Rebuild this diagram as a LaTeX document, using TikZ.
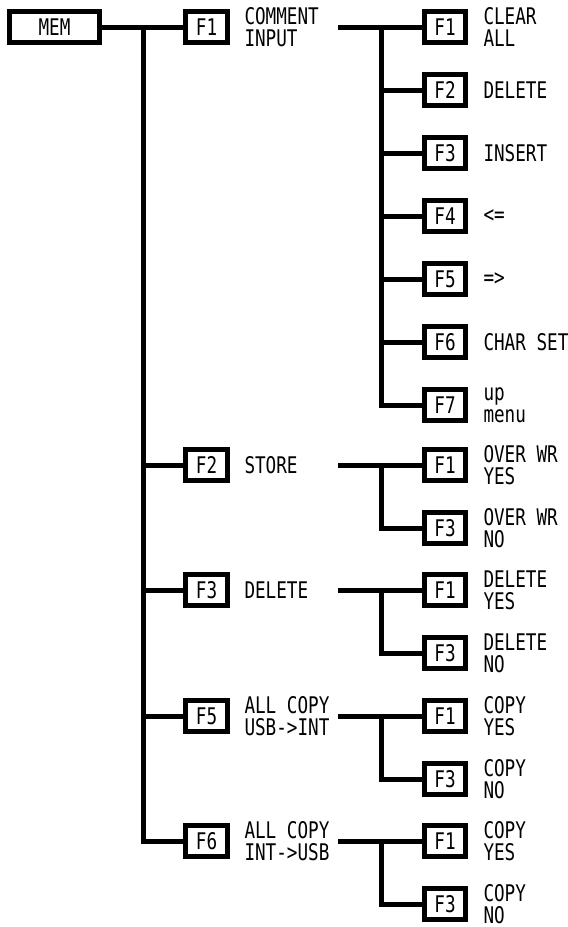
\documentclass[tikz,border=0pt]{standalone}
\usepackage{fontspec}
\setmainfont[FakeStretch=0.77]{DejaVu Sans Mono}
\newcommand\lblfont{\fontsize{23}{22}\selectfont}
\begin{document}
\begin{tikzpicture}[x=1bp,y=-1bp,line width=5bp,line join=miter,
  keybox/.style={draw,line width=5bp,minimum height=31bp,inner sep=0pt,font=\lblfont},
  lone/.style={keybox,minimum width=42bp},
  ltwo/.style={keybox,minimum width=41bp},
  memkey/.style={keybox,minimum width=90bp},
  lbl/.style={anchor=west,align=left,inner sep=0pt,font=\lblfont}]
\useasboundingbox (0,0) rectangle (568,927);

% root
\node[memkey] (mem) at (54.5,27) {MEM};

% level 1
\node[lone] (a1) at (206.5,27) {F1};
\node[lone] (a2) at (206.5,465) {F2};
\node[lone] (a3) at (206.5,590) {F3};
\node[lone] (a4) at (206.5,716) {F5};
\node[lone] (a5) at (206.5,841) {F6};
\node[lbl] (ta1) at (242,27) {COMMENT\\INPUT};
\node[lbl] (ta2) at (242,465) {STORE};
\node[lbl] (ta3) at (242,590) {DELETE};
\node[lbl] (ta4) at (242,716) {ALL COPY\\USB->INT};
\node[lbl] (ta5) at (242,841) {ALL COPY\\INT->USB};

% level 2 : comment input
\node[ltwo] (b1) at (445,27) {F1};
\node[ltwo] (b2) at (445,90) {F2};
\node[ltwo] (b3) at (445,153) {F3};
\node[ltwo] (b4) at (445,216) {F4};
\node[ltwo] (b5) at (445,279) {F5};
\node[ltwo] (b6) at (445,342) {F6};
\node[ltwo] (b7) at (445,405) {F7};
\node[lbl] at (481,27) {CLEAR\\ALL};
\node[lbl] at (481,90) {DELETE};
\node[lbl] at (481,153) {INSERT};
\node[lbl] at (481,216) {<=};
\node[lbl] at (481,279) {=>};
\node[lbl] at (481,342) {CHAR SET};
\node[lbl] at (481,405) {up\\menu};

% level 2 : store
\node[ltwo] (c1) at (445,465) {F1};
\node[ltwo] (c3) at (445,528) {F3};
\node[lbl] at (481,465) {OVER WR\\YES};
\node[lbl] at (481,528) {OVER WR\\NO};

% level 2 : delete
\node[ltwo] (d1) at (445,590) {F1};
\node[ltwo] (d3) at (445,653) {F3};
\node[lbl] at (481,590) {DELETE\\YES};
\node[lbl] at (481,653) {DELETE\\NO};

% level 2 : usb->int
\node[ltwo] (e1) at (445,716) {F1};
\node[ltwo] (e3) at (445,779) {F3};
\node[lbl] at (481,716) {COPY\\YES};
\node[lbl] at (481,779) {COPY\\NO};

% level 2 : int->usb
\node[ltwo] (f1) at (445,841) {F1};
\node[ltwo] (f3) at (445,904) {F3};
\node[lbl] at (481,841) {COPY\\YES};
\node[lbl] at (481,904) {COPY\\NO};

% main trunk
\coordinate (t0) at (143,27);
\draw (mem.east) -- (a1.west);
\draw (t0) |- (a2.west);
\draw (t0) |- (a3.west);
\draw (t0) |- (a4.west);
\draw (t0) |- (a5.west);

% sub trunks
\coordinate (s1) at (338,27);  \coordinate (v1) at (381,27);
\draw (s1) -- (b1.west);
\foreach \n in {b2,b3,b4,b5,b6,b7} \draw (v1) |- (\n.west);

\coordinate (s2) at (338,465); \coordinate (v2) at (381,465);
\draw (s2) -- (c1.west); \draw (v2) |- (c3.west);

\coordinate (s3) at (338,590); \coordinate (v3) at (381,590);
\draw (s3) -- (d1.west); \draw (v3) |- (d3.west);

\coordinate (s4) at (338,716); \coordinate (v4) at (381,716);
\draw (s4) -- (e1.west); \draw (v4) |- (e3.west);

\coordinate (s5) at (338,841); \coordinate (v5) at (381,841);
\draw (s5) -- (f1.west); \draw (v5) |- (f3.west);
\end{tikzpicture}
\end{document}
